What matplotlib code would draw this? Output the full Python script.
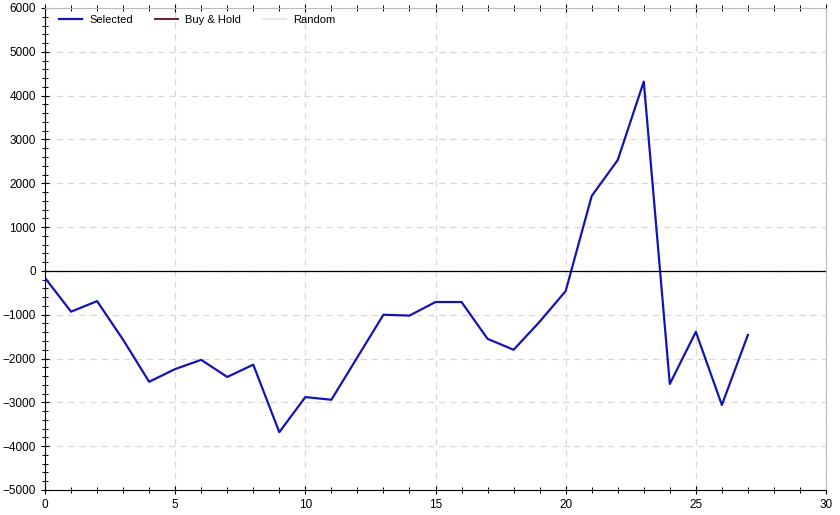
import numpy as np
import matplotlib.pyplot as plt
from matplotlib.ticker import MultipleLocator

plt.rcParams['font.family'] = ['Liberation Sans', 'DejaVu Sans']

# Equity curve values
periods = list(range(28))
selected = [-160, -930, -690, -1570, -2530, -2240, -2030, -2420, -2140, -3680,
            -2880, -2940, -1970, -1000, -1020, -710, -710, -1550, -1800, -1160,
            -460, 1710, 2530, 4320, -2580, -1390, -3060, -1460]

fig = plt.figure(figsize=(8.4, 5.15), dpi=100)
ax = fig.add_axes([45 / 840, 25 / 515, 781 / 840, 482 / 515])

ax.plot(periods, selected, color='#1414b4', lw=1.6, label='Selected')
ax.plot([], [], color='#6e1e28', lw=1.4, label='Buy & Hold')
ax.plot([], [], color='#e8e8e8', lw=1.4, label='Random')
ax.axhline(0, color='black', lw=0.9)

ax.set_xlim(0, 30)
ax.set_ylim(-5000, 6000)
ax.xaxis.set_major_locator(MultipleLocator(5))
ax.xaxis.set_minor_locator(MultipleLocator(1))
ax.yaxis.set_major_locator(MultipleLocator(1000))
ax.yaxis.set_minor_locator(MultipleLocator(200))
ax.grid(True, which='major', color='#d8d8d8', ls=(0, (5, 4)), lw=0.9)
ax.set_axisbelow(True)

ax.tick_params(which='both', direction='inout', labelsize=8.5, color='black')
ax.tick_params(which='major', length=6, width=0.8)
ax.tick_params(which='minor', length=4, width=0.7)
ax.tick_params(top=True, which='both', labeltop=False)
for side in ['top', 'right']:
    ax.spines[side].set_color('#bbbbbb')
for side in ['left', 'bottom']:
    ax.spines[side].set_color('black')

ax.legend(loc='upper left', ncol=3, frameon=False, fontsize=8,
          handlelength=2, handletextpad=0.7, columnspacing=2.0,
          borderaxespad=0.2, borderpad=0.4, bbox_to_anchor=(0.01, 1))

fig.savefig('out.png', dpi=100)
